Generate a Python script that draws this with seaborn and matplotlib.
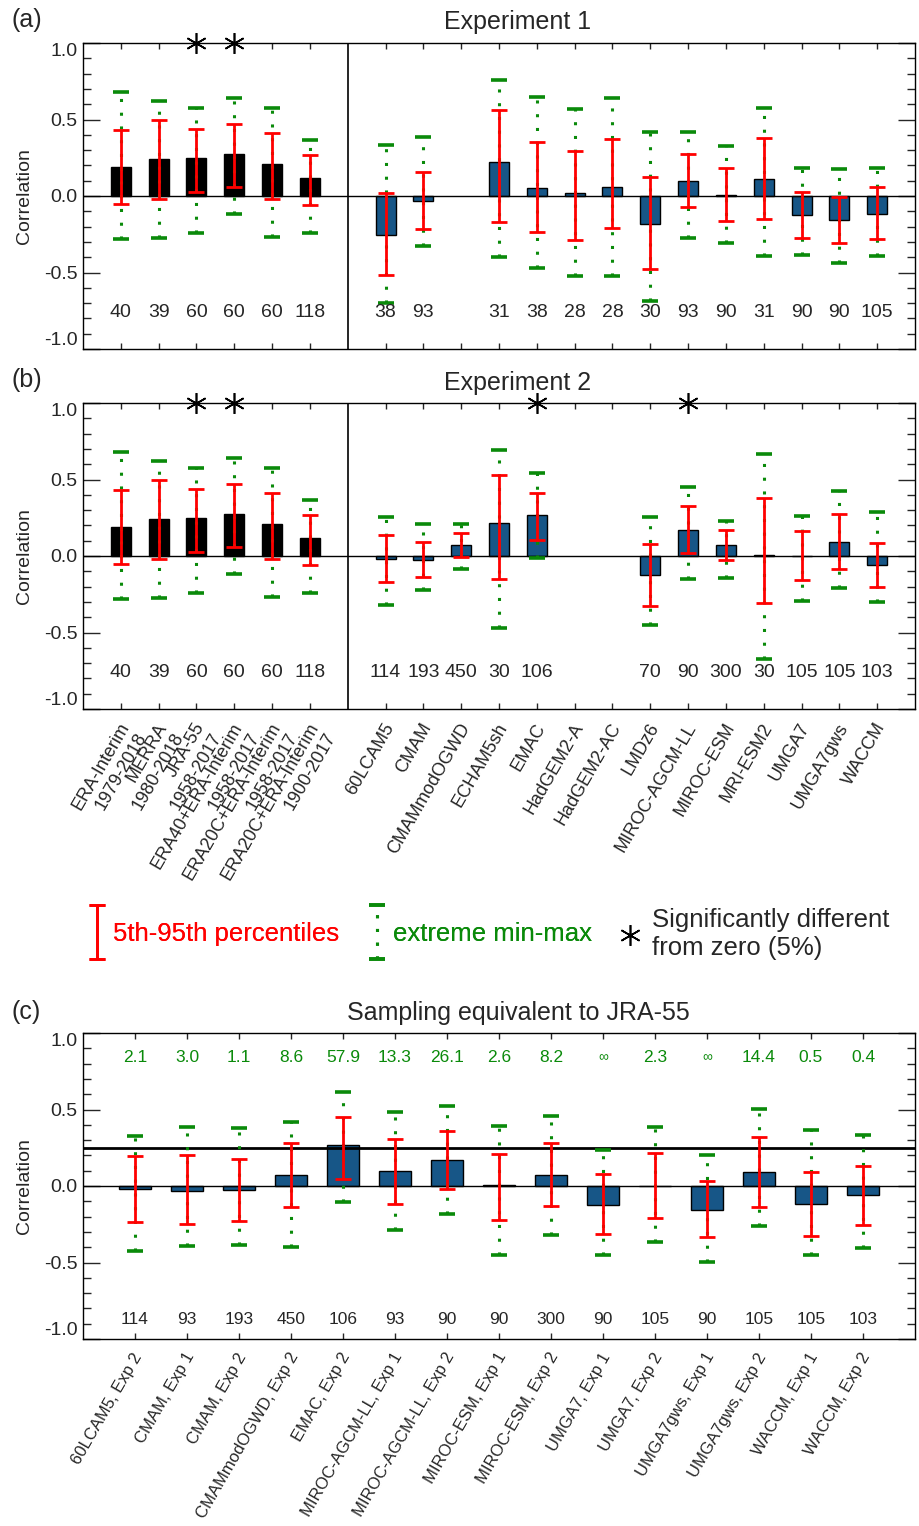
import numpy as np
import pandas as pd
import matplotlib.pyplot as plt
import seaborn as sns
from matplotlib.ticker import MultipleLocator
from matplotlib.legend_handler import HandlerErrorbar, HandlerLine2D
from matplotlib.container import ErrorbarContainer
from matplotlib.transforms import ScaledTranslation

nan = np.nan

# Reanalyses (same values in Experiment 1 and 2)
rean_labels = ['ERA-Interim\n1979-2018', 'MERRA\n1980-2018', 'JRA-55\n1958-2017',
               'ERA40+ERA-Interim\n1958-2017', 'ERA20C+ERA-Interim\n1958-2017',
               'ERA20C+ERA-Interim\n1900-2017']
rean_corr = [0.19, 0.245, 0.25, 0.277, 0.21, 0.116]
rean_p5 = [-0.05, -0.02, 0.025, 0.06, -0.02, -0.06]
rean_p95 = [0.43, 0.50, 0.435, 0.47, 0.41, 0.27]
rean_min = [-0.28, -0.275, -0.245, -0.115, -0.265, -0.24]
rean_max = [0.68, 0.62, 0.575, 0.64, 0.575, 0.365]
rean_n = [40, 39, 60, 60, 60, 118]
rean_sig = [False, False, True, True, False, False]

models = ['60LCAM5', 'CMAM', 'CMAMmodOGWD', 'ECHAM5sh', 'EMAC', 'HadGEM2-A', 'HadGEM2-AC',
          'LMDz6', 'MIROC-AGCM-LL', 'MIROC-ESM', 'MRI-ESM2', 'UMGA7', 'UMGA7gws', 'WACCM']

# Experiment 1
exp1_corr = [-0.255, -0.03, nan, 0.22, 0.052, 0.022, 0.061, -0.181, 0.10, 0.004, 0.11, -0.124, -0.157, -0.12]
exp1_p5 = [-0.517, -0.214, nan, -0.168, -0.238, -0.288, -0.212, -0.48, -0.07, -0.166, -0.153, -0.273, -0.308, -0.28]
exp1_p95 = [0.017, 0.16, nan, 0.563, 0.35, 0.297, 0.371, 0.124, 0.273, 0.18, 0.378, 0.028, -0.009, 0.057]
exp1_min = [-0.70, -0.33, nan, -0.40, -0.47, -0.52, -0.526, -0.688, -0.275, -0.31, -0.39, -0.384, -0.44, -0.393]
exp1_max = [0.336, 0.384, nan, 0.758, 0.646, 0.566, 0.64, 0.42, 0.417, 0.325, 0.576, 0.18, 0.175, 0.18]
exp1_n = [38, 93, None, 31, 38, 28, 28, 30, 93, 90, 31, 90, 90, 105]
exp1_sig = [False] * 14

# Experiment 2
exp2_corr = [-0.022, -0.024, 0.072, 0.218, 0.268, nan, nan, -0.127, 0.168, 0.072, 0.009, 0.002, 0.094, -0.059]
exp2_p5 = [-0.17, -0.135, -0.009, -0.15, 0.105, nan, nan, -0.33, 0.017, -0.024, -0.31, -0.16, -0.085, -0.203]
exp2_p95 = [0.138, 0.092, 0.148, 0.528, 0.41, nan, nan, 0.079, 0.33, 0.17, 0.376, 0.164, 0.273, 0.087]
exp2_min = [-0.32, -0.22, -0.083, -0.47, -0.01, nan, nan, -0.448, -0.15, -0.146, -0.67, -0.293, -0.21, -0.30]
exp2_max = [0.258, 0.21, 0.207, 0.694, 0.54, nan, nan, 0.258, 0.448, 0.227, 0.668, 0.262, 0.424, 0.286]
exp2_n = [114, 193, 450, 30, 106, None, None, 70, 90, 300, 30, 105, 105, 103]
exp2_sig = [False, False, False, False, True, False, False, False, True, False, False, False, False, False]

# Sampling equivalent to JRA-55
samp_labels = ['60LCAM5, Exp 2', 'CMAM, Exp 1', 'CMAM, Exp 2', 'CMAMmodOGWD, Exp 2', 'EMAC, Exp 2',
               'MIROC-AGCM-LL, Exp 1', 'MIROC-AGCM-LL, Exp 2', 'MIROC-ESM, Exp 1', 'MIROC-ESM, Exp 2',
               'UMGA7, Exp 1', 'UMGA7, Exp 2', 'UMGA7gws, Exp 1', 'UMGA7gws, Exp 2', 'WACCM, Exp 1', 'WACCM, Exp 2']
samp_corr = [-0.02, -0.03, -0.024, 0.072, 0.268, 0.10, 0.168, 0.004, 0.072, -0.124, 0.002, -0.16, 0.094, -0.12, -0.059]
samp_p5 = [-0.236, -0.25, -0.23, -0.14, 0.044, -0.116, -0.022, -0.223, -0.133, -0.312, -0.207, -0.336, -0.135, -0.33, -0.255]
samp_p95 = [0.194, 0.20, 0.177, 0.28, 0.45, 0.31, 0.362, 0.21, 0.28, 0.079, 0.214, 0.03, 0.32, 0.09, 0.133]
samp_min = [-0.424, -0.39, -0.386, -0.40, -0.105, -0.286, -0.186, -0.452, -0.317, -0.452, -0.369, -0.496, -0.264, -0.452, -0.408]
samp_max = [0.33, 0.384, 0.378, 0.42, 0.616, 0.485, 0.52, 0.393, 0.458, 0.233, 0.384, 0.205, 0.506, 0.365, 0.334]
samp_n = [114, 93, 193, 450, 106, 93, 90, 90, 300, 90, 105, 90, 105, 105, 103]
samp_ratio = ['2.1', '3.0', '1.1', '8.6', '57.9', '13.3', '26.1', '2.6', '8.2', '∞', '2.3', '∞', '14.4', '0.5', '0.4']
jra55_corr = 0.25

# Colours
red = '#ff0000'
green = '#0a8a0a'
cores = {'rean': 'black', 'model': '#04589a'}

sns.set_style('white')
plt.rcParams['font.family'] = ['Liberation Sans', 'DejaVu Sans']
plt.rcParams['axes.edgecolor'] = 'black'
plt.rcParams['axes.linewidth'] = 1.0


def montar_df(pos, kind, corr, p5, p95, vmin, vmax):
    df = pd.DataFrame({'pos': pos, 'kind': kind, 'corr': corr, 'p5': p5, 'p95': p95,
                       'min': vmin, 'max': vmax})
    return df.dropna(subset=['corr']).reset_index(drop=True)


def desenhar_painel(ax, df, bar_width, xlim, hline=None):
    sns.barplot(data=df, x='pos', y='corr', hue='kind', palette=cores, native_scale=True,
                width=bar_width, dodge=False, errorbar=None, edgecolor='black',
                linewidth=1.0, legend=False, ax=ax, zorder=1)
    ax.axhline(0, color='black', lw=1.0, zorder=1.5)
    if hline is not None:
        ax.axhline(hline, color='black', lw=2.0, zorder=1.5)
    # extreme min-max (green dotted) then 5th-95th percentiles (red)
    ext = ax.errorbar(df['pos'], (df['min'] + df['max']) / 2, yerr=(df['max'] - df['min']) / 2,
                      fmt='none', ecolor=green, elinewidth=2.2, capsize=6, capthick=2.6, zorder=2)
    ext[2][0].set_linestyle((0, (1, 3.5)))
    pct = ax.errorbar(df['pos'], (df['p5'] + df['p95']) / 2, yerr=(df['p95'] - df['p5']) / 2,
                      fmt='none', ecolor=red, elinewidth=2.0, capsize=6, capthick=2.0, zorder=3)
    ax.set_xlim(*xlim)
    ax.set_ylim(-1, 1)
    ax.set_yticks([-1, -0.5, 0, 0.5, 1], labels=['-1.0', '-0.5', '0.0', '0.5', '1.0'])
    ax.yaxis.set_minor_locator(MultipleLocator(0.1))
    ax.tick_params(axis='y', which='major', direction='in', length=12, width=1,
                   left=True, right=True, labelsize=14, pad=4)
    ax.tick_params(axis='y', which='minor', direction='in', length=6, width=1,
                   left=True, right=True)
    ax.tick_params(axis='x', which='major', direction='in', length=4.5, width=1,
                   bottom=True, top=True, pad=8)
    ax.tick_params(axis='x', which='minor', bottom=False, top=False)
    labs = ax.get_yticklabels()
    labs[0].set_va('bottom')
    labs[-1].set_va('top')
    ax.set_xlabel('')
    ax.set_ylabel('Correlation', fontsize=14, labelpad=8)
    for s in ax.spines.values():
        s.set_linewidth(1.0)
    return ext, pct


def rotular_x(ax, pos, labels, fig, size):
    ax.set_xticks(pos, labels=labels)
    off = ScaledTranslation(-2 / 72, 0, fig.dpi_scale_trans)
    for t in ax.get_xticklabels():
        t.set_rotation(60)
        t.set_ha('right')
        t.set_va('top')
        t.set_rotation_mode('anchor')
        t.set_fontsize(size)
        t.set_multialignment('right')
        t.set_transform(t.get_transform() + off)


fig = plt.figure(figsize=(9.2, 15.26), dpi=100)
W, H = 920, 1526
ax_a = fig.add_axes([83 / W, 1 - 349 / H, 832 / W, 306 / H])
ax_b = fig.add_axes([83 / W, 1 - 709 / H, 832 / W, 306 / H])
ax_c = fig.add_axes([83 / W, 1 - 1339 / H, 832 / W, 306 / H])

rean_pos = np.arange(1, 7)
model_pos = np.arange(8, 22)
pos_ab = np.concatenate([rean_pos, model_pos])
kind_ab = ['rean'] * 6 + ['model'] * 14

paineis = [
    (ax_a, exp1_corr, exp1_p5, exp1_p95, exp1_min, exp1_max, exp1_n, exp1_sig),
    (ax_b, exp2_corr, exp2_p5, exp2_p95, exp2_min, exp2_max, exp2_n, exp2_sig),
]
estrela = None
for ax, corr, p5, p95, vmin, vmax, n, sig in paineis:
    df = montar_df(pos_ab, kind_ab, rean_corr + corr, rean_p5 + p5, rean_p95 + p95,
                   rean_min + vmin, rean_max + vmax)
    desenhar_painel(ax, df, 0.53, (0, 22))
    ax.axvline(7, color='black', lw=1.2, zorder=1.5)
    for x, v in zip(pos_ab, rean_n + n):
        if v is not None:
            ax.text(x, -0.76, str(v), ha='center', va='center', fontsize=14)
    sig_all = np.array(rean_sig + sig)
    st, = ax.plot(pos_ab[sig_all], np.ones(sig_all.sum()), ls='none', marker=(6, 2, 0),
                  ms=15, mec='black', mfc='black', mew=1.2, clip_on=False, zorder=5)
    if estrela is None:
        estrela = st

ax_a.set_xticks(pos_ab, labels=[''] * len(pos_ab))
rotular_x(ax_b, pos_ab, rean_labels + models, fig, 13)

# Panel (c)
samp_pos = np.arange(1, 16)
df_c = montar_df(samp_pos, ['model'] * 15, samp_corr, samp_p5, samp_p95, samp_min, samp_max)
ext_c, pct_c = desenhar_painel(ax_c, df_c, 0.6, (0, 16), hline=jra55_corr)
for x, v, r in zip(samp_pos, samp_n, samp_ratio):
    ax_c.text(x, -0.87, str(v), ha='center', va='center', fontsize=12.5)
    ax_c.text(x, 0.84, r, ha='center', va='center', color=green,
              fontsize=10 if r == '∞' else 12.5)
rotular_x(ax_c, samp_pos, samp_labels, fig, 12)

# Titles and panel letters
fig.text(518 / W, 1 - 22 / H, 'Experiment 1', ha='center', va='center', fontsize=18)
fig.text(518 / W, 1 - 383 / H, 'Experiment 2', ha='center', va='center', fontsize=18)
fig.text(518 / W, 1 - 1013 / H, 'Sampling equivalent to JRA-55', ha='center', va='center', fontsize=18)
fig.text(12 / W, 1 - 20 / H, '(a)', ha='left', va='center', fontsize=18)
fig.text(12 / W, 1 - 380 / H, '(b)', ha='left', va='center', fontsize=18)
fig.text(12 / W, 1 - 1012 / H, '(c)', ha='left', va='center', fontsize=18)

# Legend
leg1 = fig.legend([pct_c, ext_c], ['5th-95th percentiles', 'extreme min-max'],
                  loc='center left', bbox_to_anchor=(74 / W, 1 - 934 / H), ncols=2,
                  frameon=False, fontsize=18.5, handlelength=0.8, handletextpad=0.2,
                  columnspacing=1.1, borderpad=0, labelcolor=[red, green],
                  handler_map={ErrorbarContainer: HandlerErrorbar(yerr_size=1.05)})
leg2 = fig.legend([estrela], ['Significantly different\nfrom zero (5%)'],
                  loc='center left', bbox_to_anchor=(607 / W, 1 - 934 / H),
                  frameon=False, fontsize=18.5, handlelength=0.8, handletextpad=0.45,
                  borderpad=0, numpoints=1,
                  handler_map={type(estrela): HandlerLine2D(ypad=1.3)})
fig.add_artist(leg1)

fig.savefig('out.png', dpi=100)
